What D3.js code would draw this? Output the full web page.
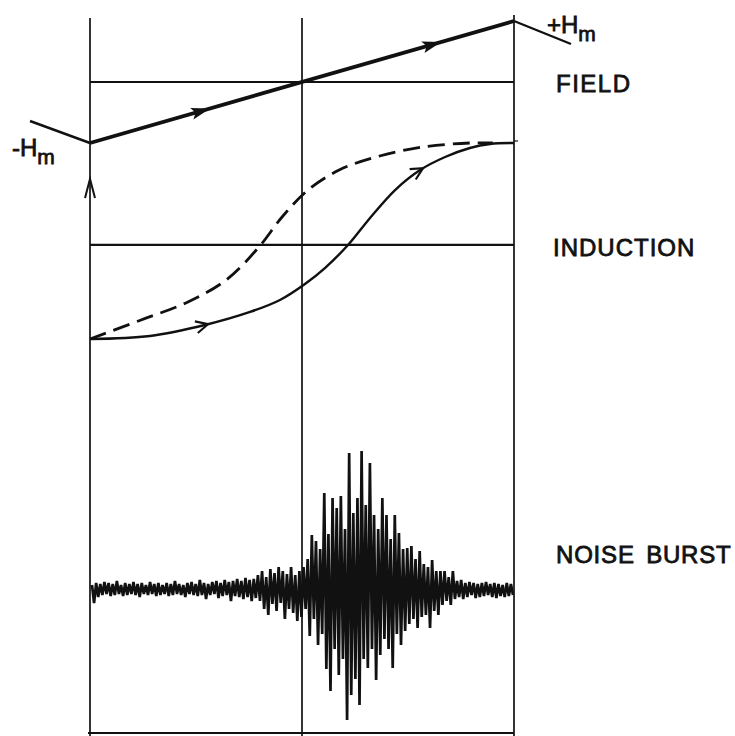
<!DOCTYPE html>
<html><head><meta charset="utf-8">
<script src="https://cdn.jsdelivr.net/npm/d3@7"></script>
<style>body{margin:0;background:#fff}svg{display:block}text{font-family:"Liberation Sans",Arial,sans-serif;fill:#111;stroke:#111;stroke-width:0.8px}</style>
</head><body><svg id="c" width="735" height="736"></svg>
<script>
// ---------- data ----------
const fieldX = [-1, 1];                 // field sweep from -Hm to +Hm
const fieldH = [-1, 1];
const fieldArrowsAt = [-0.47, 0.62];
const panelLabels = ["FIELD", "INDUCTION", "NOISE BURST"];

const solidX = [-1, -0.717, -0.458, -0.245, -0.104, 0.014, 0.108, 0.217, 0.321, 0.439, 0.557, 0.675, 0.792, 0.887, 1];
const solidB = [-1, -0.969, -0.857, -0.724, -0.602, -0.439, -0.276, -0.041, 0.235, 0.520, 0.724, 0.857, 0.949, 0.990, 1];
const dashX  = [-1, -0.759, -0.538, -0.358, -0.203, -0.094, 0.028, 0.175, 0.349, 0.571, 0.792, 0.90];
const dashB  = [-1, -0.806, -0.622, -0.398, -0.061, 0.245, 0.520, 0.724, 0.857, 0.959, 1.0, 1.0];
const inductionAxis = -0.04;

// noise trace samples (alternating deflections, px-like units, + = up)
const noiseQuiet = [4,-14,6,-8,5,-6,7,-5,6,-7,5,-6,8,-5,4,-7,6,-6,5,-5,
  7,-6,5,-8,6,-5,4,-6,7,-5,5,-7,6,-6,4,-5,6,-7,5,-6,
  8,-5,5,-6,4,-8,6,-5,7,-6,5,-7,9,-6,6,-10,5,-6,7,-5,
  8,-9,6,-7,9,-6,7,-12,8,-7,10,-8,8,-10,11,-8,9,-12,10,-9];
const noiseRise = [14,-12,18,-20,12,-26,20,-15,16,-22,22,-14,18,-30,15,-20,22,-24,14,-32];
const noiseBurst = [18,-28,22,-20,30,-47,54,-30,48,-56,40,-45,96,-80,55,-102,91,-60,81,-86,
  93,-70,60,-131,136,-106,76,-90,91,-116,138,-70,84,-79,126,-60,74,-91,60,-66,
  91,-50,74,-60,50,-79,74,-45,56,-56,40,-42,41,-35,43,-30,30,-39,38,-28,
  25,-26,22,-39,29,-22,18,-26,18,-16,18,-12,12,-16,18,-10,8,-8,9,-10];
const noiseTail = [6,-8,7,-6,6,-9,5,-8,6,-7,7,-6,5,-8,6,-9,5,-7,4,-8,6,-7,5,-6];
const noise = noiseQuiet.concat(noiseRise, noiseBurst, noiseTail);

// ---------- scales ----------
const svg = d3.select("#c");
const x = d3.scaleLinear().domain([-1, 1]).range([90, 514]);
const yF = d3.scaleLinear().domain([-1, 1]).range([143, 21]);
const yB = d3.scaleLinear().domain([-1, 1]).range([339, 143]);
const xN = d3.scaleLinear().domain([0, noise.length - 1]).range([92, 513]);
const yN = d3.scaleLinear().domain([-150, 150]).range([739, 439]);

const ink = "#111";

// frame: verticals & bottom
[[-1, 18], [0, 18], [1, 15]].forEach(([v, top]) => {
  svg.append("line").attr("x1", x(v)).attr("x2", x(v)).attr("y1", top).attr("y2", 736)
    .attr("stroke", ink).attr("stroke-width", 1.7);
});
svg.append("line").attr("x1", x(-1) - 2).attr("x2", x(1)).attr("y1", 733).attr("y2", 733)
  .attr("stroke", ink).attr("stroke-width", 2.2);

// horizontal reference lines
svg.append("line").attr("x1", x(-1)).attr("x2", x(1)).attr("y1", yF(0)).attr("y2", yF(0))
  .attr("stroke", ink).attr("stroke-width", 2.2);
svg.append("line").attr("x1", x(-1)).attr("x2", x(1)).attr("y1", yB(inductionAxis)).attr("y2", yB(inductionAxis))
  .attr("stroke", ink).attr("stroke-width", 2.2);
svg.append("line").attr("x1", x(1)).attr("x2", x(1) + 4).attr("y1", yB(1) - 2).attr("y2", yB(1) - 2)
  .attr("stroke", ink).attr("stroke-width", 1.2);

// field line
const fieldLine = d3.line().x((d, i) => x(fieldX[i])).y(d => yF(d));
svg.append("path").attr("d", fieldLine(fieldH)).attr("fill", "none").attr("stroke", ink).attr("stroke-width", 3.8);
// extensions to labels
svg.append("line").attr("x1", x(-1)).attr("y1", yF(-1)).attr("x2", 30).attr("y2", 121).attr("stroke", ink).attr("stroke-width", 2.4);
svg.append("line").attr("x1", x(1)).attr("y1", yF(1)).attr("x2", 571).attr("y2", 44).attr("stroke", ink).attr("stroke-width", 2.4);
// filled arrowheads on field
const ang = Math.atan2(yF(1) - yF(-1), x(1) - x(-1)) * 180 / Math.PI;
fieldArrowsAt.forEach(v => {
  const px = x(v), py = yF(-1) + (yF(1) - yF(-1)) * (v + 1) / 2;
  svg.append("path").attr("d", "M8,0 L-11,-6 L-7,0 L-11,6 Z").attr("fill", ink)
    .attr("transform", `translate(${px},${py}) rotate(${ang})`);
});

// induction curves
const curveGen = (xs) => d3.line().x((d, i) => x(xs[i])).y(d => yB(d)).curve(d3.curveCatmullRom.alpha(0.5));
const solidPath = svg.append("path").attr("d", curveGen(solidX)(solidB)).attr("fill", "none")
  .attr("stroke", ink).attr("stroke-width", 2.4);
svg.append("path").attr("d", curveGen(dashX)(dashB)).attr("fill", "none")
  .attr("stroke", ink).attr("stroke-width", 2.8).attr("stroke-dasharray", "17,8");

// open chevron arrows on solid curve
function chevronAt(pathSel, targetX) {
  const node = pathSel.node(), L = node.getTotalLength();
  let lo = 0, hi = L;
  for (let k = 0; k < 40; k++) { const m = (lo + hi) / 2; if (node.getPointAtLength(m).x < targetX) lo = m; else hi = m; }
  const p = node.getPointAtLength(lo), q = node.getPointAtLength(Math.min(L, lo + 3));
  const a = Math.atan2(q.y - p.y, q.x - p.x) * 180 / Math.PI;
  svg.append("path").attr("d", "M-12,-6 L0,0 L-12,6").attr("fill", "none").attr("stroke", ink).attr("stroke-width", 2.2)
    .attr("transform", `translate(${p.x},${p.y}) rotate(${a})`);
}
chevronAt(solidPath, 208);
chevronAt(solidPath, 423);
// up arrow on left axis
svg.append("path").attr("d", "M-5,11 L0,-8 L5,11").attr("fill", "none").attr("stroke", ink).attr("stroke-width", 2)
  .attr("transform", `translate(${x(-1)},187)`);

// noise trace
svg.append("path")
  .attr("d", d3.line().x((d, i) => xN(i)).y(d => yN(d))(noise))
  .attr("fill", "none").attr("stroke", ink).attr("stroke-width", 2.7).attr("stroke-linejoin", "bevel");

// labels
function hm(xp, yp, sign) {
  const t = svg.append("text").attr("x", xp).attr("y", yp).attr("font-size", 24);
  t.append("tspan").text(sign);
  t.append("tspan").text("H");
  t.append("tspan").attr("dy", 8).attr("font-size", 21).text("m");
}
hm(12, 156, "-");
hm(547, 33, "+");
svg.append("text").attr("x", 556).attr("y", 92).attr("font-size", 24).attr("letter-spacing", 1.5).text(panelLabels[0]);
svg.append("text").attr("x", 553).attr("y", 256).attr("font-size", 24).attr("letter-spacing", 1).text(panelLabels[1]);
svg.append("text").attr("x", 556).attr("y", 563).attr("font-size", 24).attr("letter-spacing", 0.8).attr("word-spacing", 4).text(panelLabels[2]);
</script></body></html>
